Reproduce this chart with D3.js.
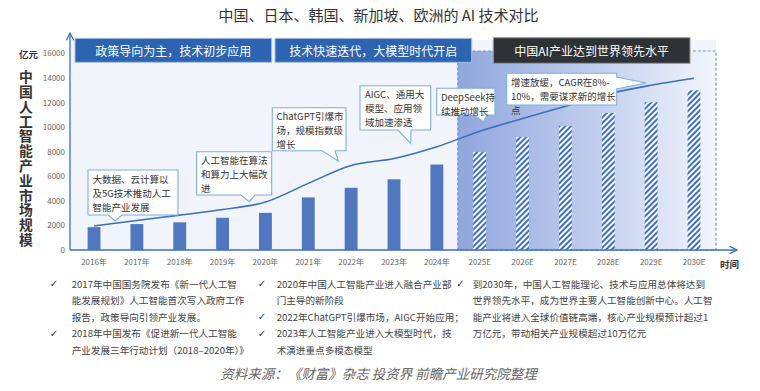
<!DOCTYPE html>
<html><head><meta charset="utf-8">
<script src="https://cdn.jsdelivr.net/npm/d3@7"></script>
<style>
body{margin:0;background:#fff;}
svg{display:block;font-family:"Noto Sans CJK SC","Noto Sans",sans-serif;}
</style>
</head><body>
<svg id="c" width="760" height="391"></svg>
<script>
// ---------- data ----------
const categories = ["2016年","2017年","2018年","2019年","2020年","2021年","2022年","2023年","2024年","2025E","2026E","2027E","2028E","2029E","2030E"];
const marketValues = [1860, 2110, 2250, 2620, 3020, 4280, 5060, 5750, 6950, 7980, 9180, 10100, 11150, 12020, 12990];
const trendValues  = [1950, 2400, 2840, 3290, 3900, 5420, 6880, 7440, 8400, 9650, 10700, 11700, 12700, 13400, 13970];
const forecastFrom = "2025E";
const yTicks = [0, 2000, 4000, 6000, 8000, 10000, 12000, 14000, 16000];
const chartTitle = "中国、日本、韩国、新加坡、欧洲的 AI 技术对比";
const yUnit = "亿元";
const yTitle = "中国人工智能产业市场规模";
const xTitle = "时间";
const phaseLabels = ["政策导向为主，技术初步应用", "技术快速迭代，大模型时代开启", "中国AI产业达到世界领先水平"];
const calloutTexts = [
  ["大数据、云计算以", "及5G技术推动人工", "智能产业发展"],
  ["人工智能在算法", "和算力上大幅改", "进"],
  ["ChatGPT引爆市", "场，规模指数级", "增长"],
  ["AIGC、通用大", "模型、应用领", "域加速渗透"],
  ["DeepSeek持", "续推动增长"],
  ["增速放缓，CAGR在8%-", "10%，需要谋求新的增长", "点"]
];
const notesLeft = ["2017年中国国务院发布《新一代人工智", "能发展规划》人工智能首次写入政府工作", "报告，政策导向引领产业发展。", "2018年中国发布《促进新一代人工智能", "产业发展三年行动计划（2018–2020年）》"];
const notesLeftChecks = [0, 3];
const notesMid = ["2020年中国人工智能产业进入融合产业部", "门主导的新阶段", "2022年ChatGPT引爆市场，AIGC开始应用；", "2023年人工智能产业进入大模型时代，技", "术演进重点多模态模型"];
const notesMidChecks = [0, 2, 3];
const notesRight = ["到2030年，中国人工智能理论、技术与应用总体将达到", "世界领先水平，成为世界主要人工智能创新中心。人工智", "能产业将进入全球价值链高端，核心产业规模预计超过1", "万亿元，带动相关产业规模超过10万亿元"];
const notesRightChecks = [0];
const sourceText = "资料来源：《财富》杂志 投资界 前瞻产业研究院整理";

// ---------- layout ----------
const svg = d3.select("#c");
const blue = "#3a6fc3";
const x = d3.scaleBand().domain(categories).range([72.6, 715.4]).paddingInner(0.7).paddingOuter(0.35);
const y = d3.scaleLinear().domain([0, 16000]).range([250, 53.3]);
const cx = c => x(c) + x.bandwidth() / 2;

const defs = svg.append("defs");
const grad = defs.append("linearGradient").attr("id", "fc").attr("x1", 0).attr("x2", 1).attr("y1", 0).attr("y2", 0);
grad.append("stop").attr("offset", 0).attr("stop-color", "#90a6dd");
grad.append("stop").attr("offset", 0.55).attr("stop-color", "#c2cfee");
grad.append("stop").attr("offset", 1).attr("stop-color", "#f3f6fc");
const pat = defs.append("pattern").attr("id", "hatch").attr("patternUnits", "userSpaceOnUse")
  .attr("width", 4).attr("height", 4).attr("patternTransform", "rotate(45)");
pat.append("rect").attr("width", 4).attr("height", 4).attr("fill", "#fff");
pat.append("rect").attr("width", 2).attr("height", 4).attr("fill", "#3d6fc6");
const mk = defs.append("marker").attr("id", "arr").attr("viewBox", "0 0 10 10").attr("refX", 9).attr("refY", 5)
  .attr("markerWidth", 7).attr("markerHeight", 7).attr("orient", "auto-start-reverse");
mk.append("path").attr("d", "M1,1 L9,5 L1,9").attr("fill", "none").attr("stroke", blue).attr("stroke-width", 1.4);

// title
svg.append("text").attr("x", 378.5).attr("y", 14).attr("text-anchor", "middle").attr("dominant-baseline", "central")
  .attr("font-size", 15).attr("fill", "#333").text(chartTitle);

// plot background
svg.append("rect").attr("x", 70).attr("y", 40).attr("width", 646).attr("height", 210).attr("fill", "#f1f4fa");
// forecast region
const fx0 = x(forecastFrom) - (x.step() - x.bandwidth()) / 2 - 0.5;
svg.append("rect").attr("x", fx0).attr("y", 51).attr("width", 716 - fx0).attr("height", 199)
  .attr("fill", "url(#fc)").attr("stroke", "#6d98d3").attr("stroke-width", 1.2).attr("stroke-dasharray", "3,2");

// bars
const data = categories.map((c, i) => ({c, v: marketValues[i], t: trendValues[i], f: i >= categories.indexOf(forecastFrom)}));
svg.append("g").selectAll("rect").data(data).join("rect")
  .attr("x", d => x(d.c)).attr("width", x.bandwidth())
  .attr("y", d => y(d.v)).attr("height", d => y(0) - y(d.v))
  .attr("fill", d => d.f ? "url(#hatch)" : "#5077c0");

// trend line
svg.append("path").datum(data)
  .attr("d", d3.line().x(d => cx(d.c)).y(d => y(d.t)).curve(d3.curveMonotoneX))
  .attr("fill", "none").attr("stroke", blue).attr("stroke-width", 1.6);

// axes
const yAxis = d3.axisLeft(y).tickValues(yTicks).tickSize(0).tickPadding(5).tickFormat(d3.format("d"));
const gy = svg.append("g").attr("transform", "translate(70,0)").call(yAxis);
gy.select(".domain").remove();
gy.selectAll("text").attr("font-size", 8).attr("fill", "#666").attr("font-family", "'Noto Sans CJK SC',sans-serif");
const xAxis = d3.axisBottom(x).tickSize(0).tickPadding(9);
const gx = svg.append("g").attr("transform", "translate(0,250)").call(xAxis);
gx.select(".domain").remove();
gx.selectAll("text").attr("font-size", 8).attr("fill", "#666").attr("font-family", "'Noto Sans CJK SC',sans-serif");

svg.append("line").attr("x1", 70).attr("y1", 250).attr("x2", 70).attr("y2", 33)
  .attr("stroke", blue).attr("stroke-width", 1.3).attr("marker-end", "url(#arr)");
svg.append("line").attr("x1", 70).attr("y1", 250).attr("x2", 737).attr("y2", 250)
  .attr("stroke", blue).attr("stroke-width", 1.3).attr("marker-end", "url(#arr)");

svg.append("text").attr("x", 28.5).attr("y", 53.5).attr("text-anchor", "middle").attr("dominant-baseline", "central")
  .attr("font-size", 9.5).attr("font-weight", "bold").attr("fill", "#333").text(yUnit);
svg.append("text").attr("x", 26).attr("y", 70)
  .attr("style", "writing-mode: vertical-rl; text-orientation: upright;")
  .attr("letter-spacing", 1)
  .attr("font-size", 13.8).attr("font-weight", "bold").attr("fill", "#333").text(yTitle);
svg.append("text").attr("x", 729.5).attr("y", 263.5).attr("text-anchor", "middle").attr("dominant-baseline", "central")
  .attr("font-size", 9.5).attr("font-weight", "bold").attr("fill", "#333").text(xTitle);

// phase headers
const heads = [
  {x0: 75, x1: 271.7, y0: 38.3, y1: 62.3, fill: "#2c64b2", stroke: "#a9bddd"},
  {x0: 275, x1: 471.7, y0: 38.3, y1: 62.3, fill: "#2c64b2", stroke: "#a9bddd"},
  {x0: 493.3, x1: 690, y0: 37.7, y1: 63.3, fill: "#2f3235", stroke: "#9a9a9a"}
];
heads.forEach((h, i) => {
  svg.append("rect").attr("x", h.x0).attr("y", h.y0).attr("width", h.x1 - h.x0).attr("height", h.y1 - h.y0)
    .attr("fill", h.fill).attr("stroke", h.stroke).attr("stroke-width", 1);
  svg.append("text").attr("x", (h.x0 + h.x1) / 2).attr("y", (h.y0 + h.y1) / 2).attr("text-anchor", "middle")
    .attr("dominant-baseline", "central").attr("font-size", 12).attr("fill", "#fff").text(phaseLabels[i]);
});

// callouts
const LH = 13.9;
const callLayout = [
  {b: [88, 170, 178, 215], base: [108, 122], tip: [115, 221], tx: 92.5, ty: 179.3},
  {b: [196.7, 151.7, 271.7, 195], base: [241, 255], tip: [249.3, 201.7], tx: 201, ty: 160.3},
  {b: [272.3, 107.7, 346, 150.7], base: [322, 335], tip: [338.3, 161], tx: 276.5, ty: 116.3},
  {b: [360, 85.7, 430.7, 130], base: [398, 411], tip: [410.7, 143.3], tx: 365, ty: 95},
  {b: [436.7, 88.3, 495, 115], base: [474, 487], tip: [483.3, 121.7], tx: 441, ty: 98},
  {b: [506.7, 73.3, 616.7, 105], side: [77, 89], tip: [646, 83], tx: 511, ty: 82.8}
];
callLayout.forEach((L, i) => {
  const [x0, y0, x1, y1] = L.b;
  let d;
  if (L.base) {
    d = `M${x0},${y0}H${x1}V${y1}H${L.base[1]}L${L.tip[0]},${L.tip[1]}L${L.base[0]},${y1}H${x0}Z`;
  } else {
    d = `M${x0},${y0}H${x1}V${L.side[0]}L${L.tip[0]},${L.tip[1]}L${x1},${L.side[1]}V${y1}H${x0}Z`;
  }
  svg.append("path").attr("d", d).attr("fill", "#fff").attr("stroke", "#7eaee0").attr("stroke-width", 1.1);
  const t = svg.append("text").attr("font-size", 9.5).attr("fill", "#333");
  calloutTexts[i].forEach((line, j) => {
    t.append("tspan").attr("x", L.tx).attr("y", L.ty + j * LH + 3.4).text(line);
  });
});

// notes
function notes(lines, checks, tx, ckx) {
  const g = svg.append("g");
  lines.forEach((t, j) => {
    const yy = 283.5 + j * 16.5;
    g.append("text").attr("x", tx).attr("y", yy).attr("dominant-baseline", "central")
      .attr("font-size", 9.6).attr("fill", "#444").text(t);
    if (checks.includes(j)) {
      g.append("text").attr("x", ckx).attr("y", yy).attr("text-anchor", "middle").attr("dominant-baseline", "central")
        .attr("font-size", 10).attr("fill", "#333").attr("font-family", "DejaVu Sans").text("✓");
    }
  });
}
notes(notesLeft, notesLeftChecks, 71.7, 54);
notes(notesMid, notesMidChecks, 276.7, 262);
notes(notesRight, notesRightChecks, 472.7, 460.5);

svg.append("text").attr("x", 378.5).attr("y", 373).attr("text-anchor", "middle").attr("dominant-baseline", "central")
  .attr("font-size", 13.5).attr("font-style", "italic").attr("fill", "#666").text(sourceText);
</script>
</body></html>
